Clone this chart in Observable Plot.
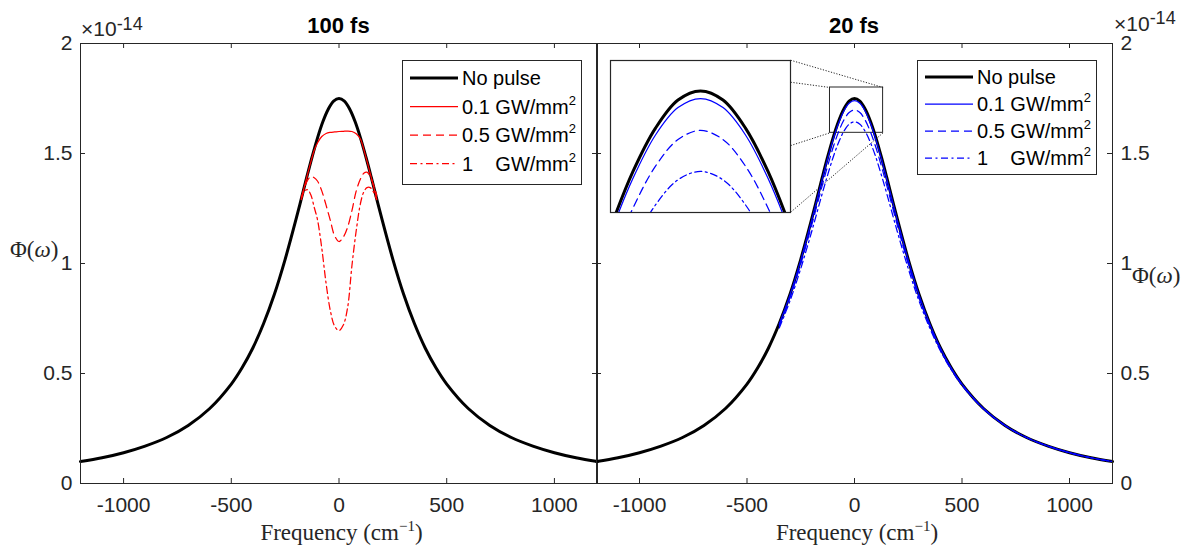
<!DOCTYPE html>
<html>
<head>
<meta charset="utf-8">
<script src="https://cdn.jsdelivr.net/npm/d3@7"></script>
<script src="https://cdn.jsdelivr.net/npm/@observablehq/plot@0.6"></script>
<style>
  html, body { margin: 0; padding: 0; background: #fff; }
  #wrap { position: relative; width: 1196px; height: 551px; overflow: hidden; background: #fff; }
  .pane { position: absolute; top: 0; }
  #inset { position: absolute; background: #fff; }
  #overlay { position: absolute; left: 0; top: 0; pointer-events: none; }
</style>
</head>
<body>
<div id="wrap"></div>
<script>
// ---------- data ----------
const xTicks = [-1000, -500, 0, 500, 1000];
const yTicks = [0, 0.5, 1, 1.5, 2];

// Frequency grid (cm^-1) and the "No pulse" spectrum (units of 1e-14)
const freqGrid = [-1200,-1100,-1000,-900,-800,-700,-600,-500,-450,-400,-350,-300,-250,-200,-150,-125,-100,-75,-50,-25,0,25,50,75,100,125,150,200,250,300,350,400,450,500,600,700,800,900,1000,1100,1200];
const noPulse  = [0.100,0.117,0.140,0.170,0.209,0.264,0.341,0.452,0.526,0.616,0.727,0.860,1.019,1.199,1.391,1.484,1.570,1.644,1.701,1.738,1.750,1.738,1.701,1.644,1.570,1.484,1.391,1.199,1.019,0.860,0.727,0.616,0.526,0.452,0.341,0.264,0.209,0.170,0.140,0.117,0.100];

// 100 fs panel (red)
const redX   = [-175,-160,-145,-130,-115,-100,-80,-60,-40,-20,0,20,40,60,80,100,115,130,145,160,175];
const red01  = [1.294,1.352,1.409,1.464,1.515,1.548,1.577,1.591,1.596,1.598,1.600,1.601,1.602,1.600,1.590,1.565,1.519,1.465,1.409,1.352,1.294];
const red05  = [1.300,1.345,1.380,1.395,1.390,1.375,1.330,1.265,1.195,1.125,1.100,1.120,1.165,1.240,1.330,1.385,1.410,1.415,1.395,1.358,1.310];
const red1   = [1.290,1.330,1.335,1.310,1.255,1.200,1.070,0.910,0.785,0.715,0.695,0.720,0.800,0.990,1.150,1.275,1.325,1.345,1.345,1.325,1.290];

// 20 fs panel (blue)
const blueX  = [-350,-300,-250,-200,-150,-125,-100,-75,-50,-25,0,25,50,75,100,125,150,200,250,300,350,400,450,500,600,700,800,900,1000,1100,1200];
const blue01 = [0.725,0.857,1.015,1.194,1.384,1.476,1.562,1.635,1.692,1.728,1.740,1.728,1.692,1.635,1.562,1.476,1.384,1.194,1.015,0.857,0.725,0.615,0.525,0.452,0.341,0.264,0.209,0.170,0.140,0.117,0.100];
const blue05 = [0.717,0.845,0.998,1.171,1.355,1.443,1.526,1.596,1.651,1.686,1.698,1.686,1.651,1.596,1.526,1.443,1.355,1.171,0.998,0.845,0.717,0.609,0.522,0.449,0.340,0.264,0.209,0.170,0.140,0.117,0.100];
const blue1  = [0.707,0.830,0.977,1.142,1.318,1.402,1.481,1.548,1.600,1.633,1.644,1.633,1.600,1.548,1.481,1.402,1.318,1.142,0.977,0.830,0.707,0.602,0.517,0.446,0.339,0.263,0.209,0.170,0.140,0.117,0.100];

const legendLabels = ["No pulse", "0.1 GW/mm", "0.5 GW/mm", "1    GW/mm"];
const panelTitles = ["100 fs", "20 fs"];

// zoom inset: region shown (data) and where the inset sits (host data coords)
const zoomRegion = {x1: -114, x2: 133, y1: 1.594, y2: 1.80};
const insetDomainX = [-100, 100];
const insetDomainY = [1.59, 1.79];
const insetBox = {x1: -1135, x2: -297, y1: 1.233, y2: 1.924};
const connectors = [
  {x1: -297, y1: 1.924, x2: 133,  y2: 1.80},
  {x1: -297, y1: 1.824, x2: -114, y2: 1.80},
  {x1: -297, y1: 1.536, x2: -114, y2: 1.594},
  {x1: -297, y1: 1.233, x2: 133,  y2: 1.594}
];

// ---------- drawing ----------
const wrap = document.getElementById("wrap");
const H = 551, MT = 43, MB = 68;
const fh = H - MT - MB;
const sans = '"Liberation Sans", Arial, Helvetica, sans-serif';
const serif = '"Liberation Serif", "Times New Roman", serif';
const ink = "#262626";
const dashed = "8,5";
const dashdot = "7,3.5,2,3.5";
const rows = (xs, ys) => xs.map((x, i) => ({x, y: ys[i]}));

function panel({width, marginLeft, marginRight, anchor, series, extra = []}) {
  const fw = width - marginLeft - marginRight;
  return Plot.plot({
    width, height: H, marginTop: MT, marginBottom: MB, marginLeft, marginRight,
    x: {domain: [-1200, 1200]},
    y: {domain: [0, 2]},
    style: {fontFamily: sans, fontSize: "21px", color: ink, background: "transparent", overflow: "visible"},
    marks: [
      Plot.ruleX(xTicks, {insetBottom: fh - 5, stroke: ink}),
      Plot.ruleX(xTicks, {insetTop: fh - 5, stroke: ink}),
      Plot.ruleY(yTicks, {insetRight: fw - 5, stroke: ink}),
      Plot.ruleY(yTicks, {insetLeft: fw - 5, stroke: ink}),
      Plot.axisX({ticks: xTicks, tickSize: 0, tickPadding: 14, tickFormat: d => String(d), label: null}),
      Plot.axisY({ticks: yTicks, anchor, tickSize: 0, tickPadding: 8, tickFormat: d => String(d), label: null}),
      ...extra,
      Plot.line(rows(freqGrid, noPulse), {x: "x", y: "y", stroke: "black", strokeWidth: 3, curve: "catmull-rom"}),
      ...series.map(s => Plot.line(rows(s.x, s.y), {x: "x", y: "y", stroke: s.color, strokeWidth: 1.25, strokeDasharray: s.dash, curve: "catmull-rom"})),
      Plot.frame({stroke: ink})
    ]
  });
}

const redSeries = [
  {x: redX, y: red01, color: "#ff0000", dash: null},
  {x: redX, y: red05, color: "#ff0000", dash: dashed},
  {x: redX, y: red1,  color: "#ff0000", dash: dashdot}
];
const blueSeries = [
  {x: blueX, y: blue01, color: "#0000ff", dash: null},
  {x: blueX, y: blue05, color: "#0000ff", dash: dashed},
  {x: blueX, y: blue1,  color: "#0000ff", dash: dashdot}
];

const leftPlot = panel({width: 597, marginLeft: 80, marginRight: 0, anchor: "left", series: redSeries});
const rightLeft = 596;
const rightPlot = panel({
  width: 600, marginLeft: 0, marginRight: 84, anchor: "right", series: blueSeries,
  extra: [
    Plot.link(connectors, {x1: "x1", y1: "y1", x2: "x2", y2: "y2", stroke: ink, strokeWidth: 1, strokeDasharray: "1.2,1.6"}),
    Plot.rect([zoomRegion], {x1: "x1", x2: "x2", y1: "y1", y2: "y2", fill: "none", stroke: ink, strokeWidth: 1})
  ]
});

const d1 = document.createElement("div"); d1.className = "pane"; d1.style.left = "0px"; d1.style.width = "597px"; d1.appendChild(leftPlot);
const d2 = document.createElement("div"); d2.className = "pane"; d2.style.left = rightLeft + "px"; d2.style.width = "600px"; d2.appendChild(rightPlot);
wrap.appendChild(d1); wrap.appendChild(d2);

// inset
const sx = rightPlot.scale("x"), sy = rightPlot.scale("y");
const iL = rightLeft + sx.apply(insetBox.x1), iR = rightLeft + sx.apply(insetBox.x2);
const iT = sy.apply(insetBox.y2), iB = sy.apply(insetBox.y1);
const iw = Math.round(iR - iL), ih = Math.round(iB - iT);
const insetPlot = Plot.plot({
  width: iw, height: ih, marginTop: 0, marginBottom: 0, marginLeft: 0, marginRight: 0,
  x: {domain: insetDomainX, axis: null}, y: {domain: insetDomainY, axis: null},
  style: {background: "#fff", overflow: "visible"},
  marks: [
    Plot.line(rows(freqGrid, noPulse), {x: "x", y: "y", stroke: "black", strokeWidth: 3, curve: "catmull-rom", clip: true}),
    ...blueSeries.map(s => Plot.line(rows(s.x, s.y), {x: "x", y: "y", stroke: s.color, strokeWidth: 1.25, strokeDasharray: s.dash, curve: "catmull-rom", clip: true})),
    Plot.frame({stroke: ink, strokeWidth: 1.2})
  ]
});
const di = document.createElement("div"); di.id = "inset";
di.style.left = Math.round(iL) + "px"; di.style.top = Math.round(iT) + "px";
di.style.width = iw + "px"; di.style.height = ih + "px";
di.appendChild(insetPlot);
wrap.appendChild(di);

// overlay: titles, exponent, axis labels, legends
function legend(x, y, w, h, rowsY, color) {
  const styles = [{c: "#000000", sw: 3, da: ""}, {c: color, sw: 1.25, da: ""}, {c: color, sw: 1.25, da: dashed}, {c: color, sw: 1.25, da: dashdot}];
  let s = `<rect x="${x + 0.5}" y="${y + 0.5}" width="${w}" height="${h}" fill="#fff" stroke="${ink}" stroke-width="1"/>`;
  rowsY.forEach((ry, i) => {
    const st = styles[i];
    s += `<line x1="${x + 8}" x2="${x + 56}" y1="${ry}" y2="${ry}" stroke="${st.c}" stroke-width="${st.sw}"${st.da ? ` stroke-dasharray="${st.da}"` : ""}></line>`;
    const sup = i > 0 ? `<tspan font-size="13" dy="-9">2</tspan>` : "";
    s += `<text x="${x + 60}" y="${ry + 7}" font-family='${sans}' font-size="20" fill="#000" style="white-space:pre" xml:space="preserve">${legendLabels[i]}${sup}</text>`;
  });
  return s;
}

const svgNS = "http://www.w3.org/2000/svg";
const ov = document.createElementNS(svgNS, "svg");
ov.setAttribute("id", "overlay");
ov.setAttribute("width", 1196); ov.setAttribute("height", 551);
const cxL = leftPlot.scale("x").apply(0);
const cxR = rightLeft + sx.apply(0);
ov.innerHTML = `
  <text x="${cxL}" y="33" text-anchor="middle" font-family='${sans}' font-size="22" font-weight="bold" fill="#000">${panelTitles[0]}</text>
  <text x="${cxR}" y="33" text-anchor="middle" font-family='${sans}' font-size="22" font-weight="bold" fill="#000">${panelTitles[1]}</text>
  <text x="81" y="36" font-family='${sans}' font-size="21" fill="${ink}">×10<tspan font-size="18" dy="-6">-14</tspan></text>
  <text x="1114" y="31" font-family='${sans}' font-size="21" fill="${ink}">×10<tspan font-size="18" dy="-7">-14</tspan></text>
  <text x="${cxL + 3}" y="540" text-anchor="middle" font-family='${serif}' font-size="23" fill="${ink}">Frequency (cm<tspan font-size="15" dy="-9">−1</tspan><tspan dy="9">)</tspan></text>
  <text x="${cxR + 3}" y="540" text-anchor="middle" font-family='${serif}' font-size="23" fill="${ink}">Frequency (cm<tspan font-size="15" dy="-9">−1</tspan><tspan dy="9">)</tspan></text>
  <text x="10" y="257" font-family='${serif}' font-size="23" fill="${ink}">Φ(<tspan font-style="italic">ω</tspan>)</text>
  <text x="1132" y="283" font-family='${serif}' font-size="23" fill="${ink}">Φ(<tspan font-style="italic">ω</tspan>)</text>
  ${legend(402, 60, 179, 124, [78, 106.5, 135, 163.5], "#ff0000")}
  ${legend(917, 60, 179, 114, [77, 104, 131, 158], "#0000ff")}
`;
wrap.appendChild(ov);
</script>
</body>
</html>
